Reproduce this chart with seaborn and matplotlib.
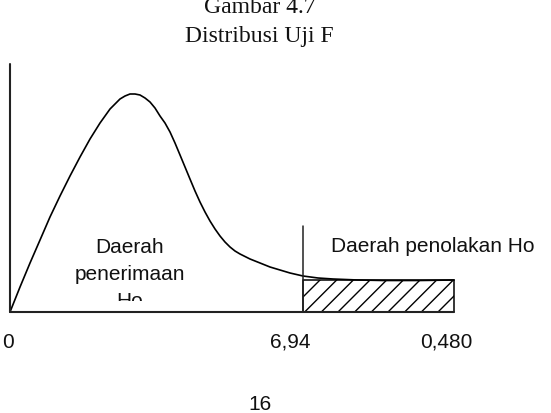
import numpy as np
import pandas as pd
import matplotlib
matplotlib.use("Agg")
import matplotlib.pyplot as plt
import seaborn as sns
from matplotlib.transforms import Bbox, TransformedBbox

# data: kurva distribusi F
curve_x = [0.0, 0.237, 0.474, 0.711, 0.947, 1.184, 1.421, 1.658, 1.895, 2.132,
           2.369, 2.605, 2.724, 2.842, 2.961, 3.079, 3.198, 3.316, 3.434, 3.553,
           3.671, 3.790, 3.908, 4.027, 4.145, 4.263, 4.382, 4.500, 4.619, 4.737,
           4.856, 4.974, 5.092, 5.211, 5.329, 5.448, 5.685, 5.922, 6.158, 6.395,
           6.632, 6.94, 7.295, 7.651, 8.243, 8.835, 9.711, 10.52]
curve_y = [0.0, 0.025, 0.049, 0.072, 0.095, 0.116, 0.136, 0.155, 0.173, 0.189,
           0.203, 0.213, 0.216, 0.218, 0.218, 0.217, 0.214, 0.210, 0.204, 0.196,
           0.189, 0.180, 0.169, 0.157, 0.145, 0.133, 0.121, 0.110, 0.100, 0.091,
           0.083, 0.076, 0.070, 0.065, 0.061, 0.058, 0.053, 0.049, 0.045, 0.042,
           0.039, 0.036, 0.034, 0.033, 0.032, 0.0315, 0.0315, 0.032]

f_tabel = 6.94
x_end = 10.52
tail_height = 0.032
axis_top = 0.248
crit_top = 0.086

tick_pos = [0.0, 6.94, 10.52]
tick_labels = ["0", "6,94", "0,480"]

title_lines = ["Gambar 4.7", "Distribusi Uji F"]
terima_lines = ["Daerah", "penerimaan", "Ho"]
tolak_label = "Daerah penolakan Ho"
page_no = "16"


def main():
    sns.set_theme(style="white")
    plt.rcParams['font.family'] = ['Liberation Sans', 'DejaVu Sans']
    plt.rcParams['hatch.linewidth'] = 1.0

    fig = plt.figure(figsize=(5.51, 4.14), dpi=100)
    ax = fig.add_axes([0, 0, 1, 1])
    ax.set_xlim(-0.237, 12.814)
    ax.set_ylim(-0.101, 0.313)
    ax.axis('off')

    df = pd.DataFrame({'x': curve_x, 'y': curve_y})
    sns.lineplot(data=df, x='x', y='y', sort=False, color='black',
                 linewidth=1.2, ax=ax, solid_joinstyle='round')

    # sumbu
    ax.plot([0, 0], [0, axis_top], color='#222222', linewidth=1.5)
    ax.plot([0, x_end], [0, 0], color='#222222', linewidth=1.5)
    ax.plot([f_tabel, f_tabel], [0, crit_top], color='#222222', linewidth=1.1)

    # daerah penolakan (arsir)
    ax.fill_between([f_tabel, x_end], 0, tail_height, facecolor='none',
                    edgecolor='black', hatch='//', linewidth=1.1)

    # label sumbu x
    offsets = [-1.4, -9.4, -5.8]
    for pos, lab, off in zip(tick_pos, tick_labels, offsets):
        ax.annotate(lab, xy=(pos, 0), xytext=(off, -25), textcoords='offset points',
                    ha='center', va='baseline', fontsize=15, color='#111111')

    # judul (baris atas terpotong seperti pada gambar asli)
    fig.text(0.472, 1 - 13 / 414, title_lines[0], ha='center', va='baseline',
             fontsize=17, family='Liberation Serif', color='#111111')
    fig.text(0.470, 1 - 42 / 414, title_lines[1], ha='center', va='baseline',
             fontsize=17, family='Liberation Serif', color='#111111')

    # teks daerah penerimaan, baris terakhir terpotong
    clip = TransformedBbox(Bbox.from_extents(0, 1 - 302 / 414, 1, 1), fig.transFigure)
    for lab, yb in zip(terima_lines, [253, 280, 307]):
        t = fig.text(129.5 / 551, 1 - yb / 414, lab, ha='center', va='baseline',
                     fontsize=15, color='#111111')
        t.set_clip_box(clip)
        t.set_clip_on(True)

    fig.text(433 / 551, 1 - 252 / 414, tolak_label, ha='center', va='baseline',
             fontsize=15, color='#111111')

    fig.text(260 / 551, 1 - 410 / 414, page_no, ha='center', va='baseline',
             fontsize=15, color='#111111')

    fig.savefig('out.png', dpi=100)


if __name__ == "__main__":
    main()
